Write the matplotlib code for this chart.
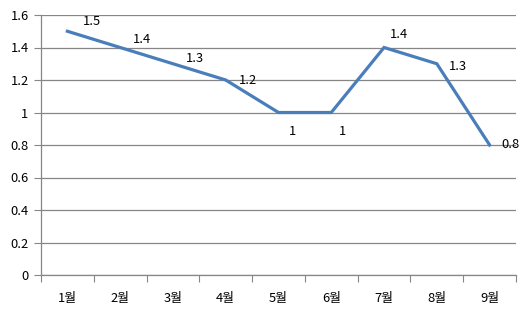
import matplotlib
matplotlib.use("Agg")
import matplotlib.pyplot as plt
import numpy as np

plt.rcParams['font.family'] = ['Noto Sans CJK KR', 'DejaVu Sans']

months = ["1월", "2월", "3월", "4월", "5월", "6월", "7월", "8월", "9월"]
values = [1.5, 1.4, 1.3, 1.2, 1, 1, 1.4, 1.3, 0.8]
value_labels = ["1.5", "1.4", "1.3", "1.2", "1", "1", "1.4", "1.3", "0.8"]
y_ticks = [0, 0.2, 0.4, 0.6, 0.8, 1, 1.2, 1.4, 1.6]
y_tick_labels = ["0", "0.2", "0.4", "0.6", "0.8", "1", "1.2", "1.4", "1.6"]

# label offsets in points (dx, dy)
offsets = [(18, 7), (16, 6), (16, 4), (16, 0), (10, -14), (8, -14), (11, 9), (15, -2), (15, 0)]

grid_col = "#868686"
fs = 9.3

fig = plt.figure(figsize=(5.30, 3.14), dpi=100)
ax = fig.add_axes([41 / 530, 39 / 314, 475 / 530, 260 / 314])

x = np.arange(len(months))
ax.plot(x, values, color="#4A7EBB", linewidth=2.3, solid_joinstyle="miter", zorder=3)

for xi, v, lab, off in zip(x, values, value_labels, offsets):
    ax.annotate(lab, (xi, v), xytext=off, textcoords="offset points",
                ha="center", va="center", fontsize=fs, color="black")

ax.set_xlim(-0.5, len(months) - 0.5)
ax.set_ylim(0, 1.6)
ax.set_yticks(y_ticks)
ax.set_yticklabels(y_tick_labels, fontsize=fs)
ax.grid(axis="y", color=grid_col, linewidth=0.9)
ax.set_axisbelow(True)

ax.set_xticks(np.arange(-0.5, len(months), 1))
ax.set_xticklabels([])
ax.set_xticks(x, minor=True)
ax.set_xticklabels(months, minor=True, fontsize=fs)
ax.tick_params(axis="x", which="minor", length=0, pad=12)
ax.tick_params(axis="x", which="major", length=5, color=grid_col, direction="out")
ax.tick_params(axis="y", length=5, color=grid_col, direction="out", pad=4)

for s in ["top", "right"]:
    ax.spines[s].set_visible(False)
for s in ["left", "bottom"]:
    ax.spines[s].set_color(grid_col)
    ax.spines[s].set_linewidth(0.9)

fig.savefig("out.png", dpi=100)
